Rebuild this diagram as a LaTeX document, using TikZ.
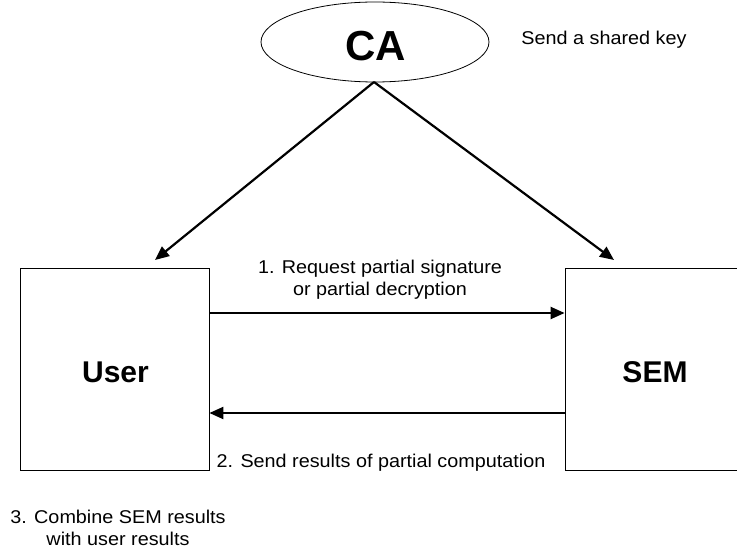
\documentclass[tikz,border=0pt]{standalone}
\usepackage{fontspec}
\setmainfont{Liberation Sans}
\newfontfamily\widesans[FakeStretch=1.07]{Liberation Sans}
\usetikzlibrary{arrows.meta,shapes.geometric}
\begin{document}
\begin{tikzpicture}[x=1pt,y=-1pt,
  box/.style={draw,line width=0.8pt,minimum width=189pt,minimum height=202pt,inner sep=0pt},
  big/.style={font=\fontsize{30}{32}\selectfont\bfseries},
  lbl/.style={font=\widesans\fontsize{18.5}{22}\selectfont,align=center,inner sep=0pt},
  arr/.style={line width=2.2pt,-{Triangle[length=14pt,width=12pt]}}]
\useasboundingbox (0,0) rectangle (737,548);
\clip (0,0) rectangle (737,548);
\node[draw,ellipse,line width=0.8pt,minimum width=228pt,minimum height=80pt,inner sep=0pt] (ca) at (375,42) {};
\node[font=\fontsize{42}{44}\selectfont\bfseries] (catext) at (376,46) {CA};
\node[box] (user) at (114.5,369) {};
\node[big] (usertext) at (115.5,372) {User};
\node[box] (sem) at (659.5,369) {};
\node[big] (semtext) at (655,372) {SEM};
\coordinate (cab) at (374,82);
\coordinate (ue) at (155,260);
\coordinate (se) at (614,260);
\draw[arr] (cab) -- (ue);
\draw[arr] (cab) -- (se);
\draw[arr] (user.east |- 0,313) -- (sem.west |- 0,313);
\draw[arr] (sem.west |- 0,413) -- (user.east |- 0,413);
\node[lbl] (l1) at (380,280) {1. Request partial signature\\or partial decryption};
\node[lbl] (l2) at (381,463) {2. Send results of partial computation};
\node[lbl] (l3) at (118,528) {3. Combine SEM results\\with user results};
\node[lbl] (l0) at (604,40) {Send a shared key};
\end{tikzpicture}
\end{document}
